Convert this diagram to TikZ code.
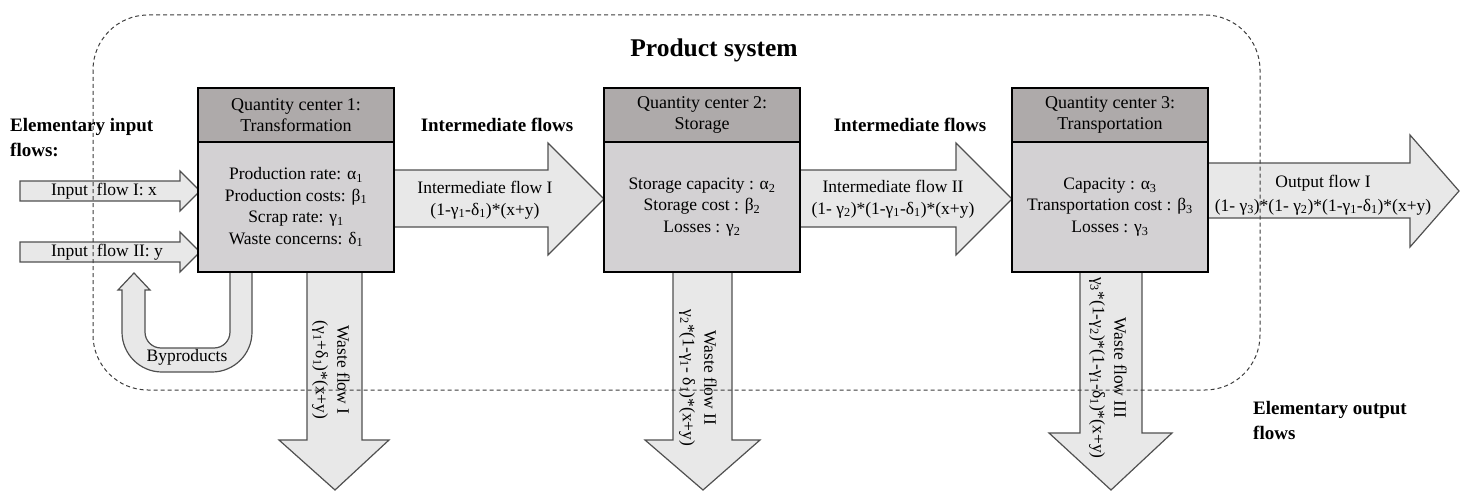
\documentclass[tikz,border=0pt]{standalone}
\usepackage{fontspec}
\setmainfont{Liberation Serif}
\definecolor{arrowfill}{RGB}{232,232,232}
\definecolor{arrowline}{RGB}{80,80,80}
\definecolor{hdrfill}{RGB}{174,170,170}
\definecolor{bodyfill}{RGB}{211,209,211}
\definecolor{dashcol}{RGB}{60,60,60}
\newcommand\mga[1]{α\textsubscript{#1}}
\newcommand\mbe[1]{β\textsubscript{#1}}
\newcommand\mgm[1]{γ\textsubscript{#1}}
\newcommand\mdl[1]{δ\textsubscript{#1}}
\begin{document}
\begin{tikzpicture}[x=1pt,y=-1pt,
  flow/.style={draw=arrowline, fill=arrowfill, line width=1.2pt, line join=miter},
  hdr/.style={draw=black, line width=1.8pt, fill=hdrfill, minimum width=196pt, minimum height=54pt, inner sep=0pt, align=center, font=\fontsize{18}{21}\selectfont},
  bodybox/.style={draw=black, line width=1.8pt, fill=bodyfill, minimum width=196pt, minimum height=130pt, inner sep=0pt, align=center, font=\fontsize{17.5}{21.5}\selectfont},
  txt/.style={align=center, inner sep=0pt, font=\fontsize{17.5}{21.5}\selectfont},
  lbl/.style={align=left, inner sep=0pt, font=\fontsize{19}{25}\selectfont\bfseries},
  sysbox/.style={draw=dashcol, line width=1pt, dash pattern=on 4pt off 3pt, rounded corners=55pt}
]
\useasboundingbox (0,0) rectangle (1461,492);

% input flows
\draw[flow] (20,181) -- (180,181) -- (180,171) -- (200,191) -- (180,211) -- (180,201) -- (20,201) -- cycle;
\draw[flow] (20,242) -- (180,242) -- (180,232) -- (200,252) -- (180,272) -- (180,262) -- (20,262) -- cycle;

% intermediate flows
\draw[flow] (394,170) -- (548,170) -- (548,143) -- (604,199) -- (548,255) -- (548,227) -- (394,227) -- cycle;
\draw[flow] (800,170) -- (956,170) -- (956,143) -- (1012,199) -- (956,255) -- (956,227) -- (800,227) -- cycle;

% output flow
\draw[flow] (1208,163) -- (1410,163) -- (1410,135) -- (1459,191) -- (1410,247) -- (1410,218) -- (1208,218) -- cycle;

% waste flows
\draw[flow] (307,270) -- (362,270) -- (362,440) -- (389,440) -- (335,490) -- (279,440) -- (307,440) -- cycle;
\draw[flow] (673,270) -- (732,270) -- (732,440) -- (760,440) -- (703,490) -- (645,440) -- (673,440) -- cycle;
\draw[flow] (1080,270) -- (1142,270) -- (1142,433) -- (1172,433) -- (1111,490) -- (1049,433) -- (1080,433) -- cycle;

% byproducts loop
\draw[flow] (230,270) -- (252,270) -- (252,332)
  arc[start angle=0, end angle=90, radius=40] -- (162,372)
  arc[start angle=90, end angle=180, radius=40] -- (122,290) -- (118,290) -- (134,273) -- (150,290) -- (145,290) -- (145,332)
  arc[start angle=180, end angle=90, radius=16] -- (214,348)
  arc[start angle=90, end angle=0, radius=16] -- cycle;

% quantity centers
\node[hdr] (h1) at (296,115) {Quantity center 1:\\Transformation};
\node[bodybox] (b1) at (296,207) {Production rate: \mga1\\Production costs: \mbe1\\Scrap rate: \mgm1\\Waste concerns: \mdl1};
\node[hdr] (h2) at (702,115) {Quantity center 2:\\Storage};
\node[bodybox] (b2) at (702,207) {Storage capacity : \mga2\\Storage cost : \mbe2\\Losses : \mgm2};
\node[hdr] (h3) at (1110,115) {Quantity center 3:\\Transportation};
\node[bodybox] (b3) at (1110,207) {Capacity : \mga3\\Transportation cost : \mbe3\\Losses : \mgm3};

% flow texts
\node[txt] (in1) at (104,191) {Input \ flow I: x};
\node[txt] (in2) at (107,252) {Input \ flow II: y};
\node[txt] (if1) at (485,200) {Intermediate flow I\\(1-\mgm1-\mdl1)*(x+y)};
\node[txt] (if2) at (893,199) {Intermediate flow II\\(1- \mgm2)*(1-\mgm1-\mdl1)*(x+y)};
\node[txt, font=\fontsize{17.5}{24}\selectfont] (of1) at (1323,195) {Output flow I\\(1- \mgm3)*(1- \mgm2)*(1-\mgm1-\mdl1)*(x+y)};
\node[txt] (byp) at (187,357) {Byproducts};
\node[txt, rotate=-90] (wf1) at (331,370) {Waste flow I\\(\mgm1+\mdl1)*(x+y)};
\node[txt, rotate=-90] (wf2) at (698,378) {Waste flow II\\\mgm2*(1-\mgm1- \mdl1)*(x+y)};
\node[txt, rotate=-90] (wf3) at (1108,368) {Waste flow III\\\mgm3*(1-\mgm2)*(1-\mgm1-\mdl1)*(x+y)};

% labels
\node[lbl, anchor=west] (eif) at (10,138) {Elementary input\\flows:};
\node[lbl, anchor=west] (eof) at (1253,420) {Elementary output\\flows};
\node[lbl, align=center] (imf1) at (497,125) {Intermediate flows};
\node[lbl, align=center] (imf2) at (910,125) {Intermediate flows};
\node[inner sep=0pt, font=\fontsize{25.5}{30}\selectfont\bfseries] (ps) at (714,50) {Product system};

% product system boundary
\draw[sysbox] (93,15) rectangle (1260,390);
\end{tikzpicture}
\end{document}
